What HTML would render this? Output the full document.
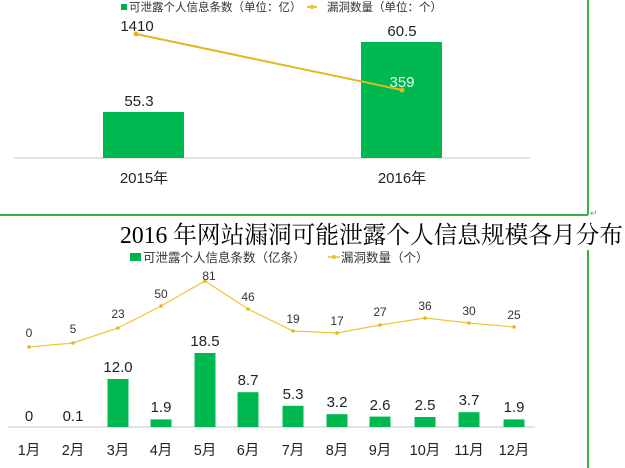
<!DOCTYPE html>
<html><head><meta charset="utf-8"><style>
body{margin:0;background:#fff;width:625px;height:468px;overflow:hidden;}
svg{display:block;font-family:"Liberation Sans","Noto Sans CJK SC",sans-serif;}
</style></head><body>
<svg width="625" height="468" viewBox="0 0 625 468">
<line x1="588" y1="0" x2="588" y2="215" stroke="#3cb043" stroke-width="2"/>
<line x1="0" y1="215" x2="588" y2="215" stroke="#3cb043" stroke-width="2"/>
<text x="590" y="216" font-size="9" fill="#888">↵</text>
<rect x="121" y="4" width="6" height="6" fill="#00b050"/>
<text x="129" y="11" font-size="11.5" fill="#333">可泄露个人信息条数（单位：亿）</text>
<line x1="307" y1="7" x2="317" y2="7" stroke="#f0c030" stroke-width="2"/>
<circle cx="312" cy="7" r="2.2" fill="#f0c030"/>
<text x="327" y="11" font-size="11.5" fill="#333">漏洞数量（单位：个）</text>
<line x1="14" y1="158" x2="530" y2="158" stroke="#d9d9d9" stroke-width="1.5"/>
<rect x="103" y="112" width="81" height="46" fill="#00b850"/>
<rect x="361" y="42" width="81" height="116" fill="#00b850"/>
<line x1="136" y1="34" x2="402" y2="90" stroke="#e0b820" stroke-width="2"/>
<circle cx="136" cy="34" r="2.5" fill="#e0b820"/>
<circle cx="402" cy="90" r="2.5" fill="#e0b820"/>
<g font-size="15" fill="#222" text-anchor="middle">
<text x="137" y="31">1410</text>
<text x="139" y="106">55.3</text>
<text x="402" y="36">60.5</text>
<text x="402" y="87" fill="#e8ffe8">359</text>
<text x="144" y="183">2015年</text>
<text x="402" y="183">2016年</text>
</g>
<text x="120" y="243" font-size="24" textLength="503" lengthAdjust="spacingAndGlyphs" fill="#000" font-family="Liberation Serif,'Noto Serif CJK SC',serif">2016 年网站漏洞可能泄露个人信息规模各月分布</text>
<rect x="130" y="253" width="11" height="8" fill="#00b050"/>
<text x="143" y="262" font-size="12.5" fill="#333">可泄露个人信息条数（亿条）</text>
<line x1="328" y1="257" x2="340" y2="257" stroke="#f0c030" stroke-width="1.5"/>
<circle cx="334" cy="257" r="2" fill="#f0c030"/>
<text x="341" y="262" font-size="12.5" fill="#333">漏洞数量（个）</text>
<line x1="588" y1="250" x2="588" y2="468" stroke="#3cb043" stroke-width="2"/>
<line x1="8" y1="427" x2="535" y2="427" stroke="#d9d9d9" stroke-width="1.5"/>
<g fill="#00b850">
<rect x="107.5" y="379" width="21" height="48"/>
<rect x="150.5" y="419.4" width="21" height="7.6"/>
<rect x="194.5" y="353" width="21" height="74"/>
<rect x="237.5" y="392.2" width="21" height="34.8"/>
<rect x="282.5" y="405.8" width="21" height="21.2"/>
<rect x="326.5" y="414.2" width="21" height="12.8"/>
<rect x="369.5" y="416.6" width="21" height="10.4"/>
<rect x="414.5" y="417" width="21" height="10"/>
<rect x="458.5" y="412.2" width="21" height="14.8"/>
<rect x="503.5" y="419.4" width="21" height="7.6"/>
</g>
<polyline points="29,347 73,343 118,328 161,306 205,281 248,309 293,331 337,333 380,325 425,318 469,323 514,327" fill="none" stroke="#efc53a" stroke-width="1.2"/>
<g fill="#e0b820">
<circle cx="29" cy="347" r="1.8"/><circle cx="73" cy="343" r="1.8"/><circle cx="118" cy="328" r="1.8"/><circle cx="161" cy="306" r="1.8"/><circle cx="205" cy="281" r="1.8"/><circle cx="248" cy="309" r="1.8"/><circle cx="293" cy="331" r="1.8"/><circle cx="337" cy="333" r="1.8"/><circle cx="380" cy="325" r="1.8"/><circle cx="425" cy="318" r="1.8"/><circle cx="469" cy="323" r="1.8"/><circle cx="514" cy="327" r="1.8"/>
</g>
<g font-size="12" fill="#333" text-anchor="middle">
<text x="29" y="337">0</text><text x="73" y="333">5</text><text x="118" y="318">23</text><text x="161" y="298">50</text><text x="209" y="280">81</text><text x="248" y="301">46</text><text x="293" y="323">19</text><text x="337" y="325">17</text><text x="380" y="316">27</text><text x="425" y="310">36</text><text x="469" y="315">30</text><text x="514" y="319">25</text>
</g>
<g font-size="15" fill="#222" text-anchor="middle">
<text x="29" y="421">0</text><text x="73" y="421">0.1</text><text x="118" y="372">12.0</text><text x="161" y="412">1.9</text><text x="205" y="346">18.5</text><text x="248" y="385">8.7</text><text x="293" y="399">5.3</text><text x="337" y="407">3.2</text><text x="380" y="410">2.6</text><text x="425" y="410">2.5</text><text x="469" y="405">3.7</text><text x="514" y="412">1.9</text>
</g>
<g font-size="14.5" fill="#222" text-anchor="middle">
<text x="29" y="455">1月</text><text x="73" y="455">2月</text><text x="118" y="455">3月</text><text x="161" y="455">4月</text><text x="205" y="455">5月</text><text x="248" y="455">6月</text><text x="293" y="455">7月</text><text x="337" y="455">8月</text><text x="380" y="455">9月</text><text x="425" y="455">10月</text><text x="469" y="455">11月</text><text x="514" y="455">12月</text>
</g>
</svg>
</body></html>
